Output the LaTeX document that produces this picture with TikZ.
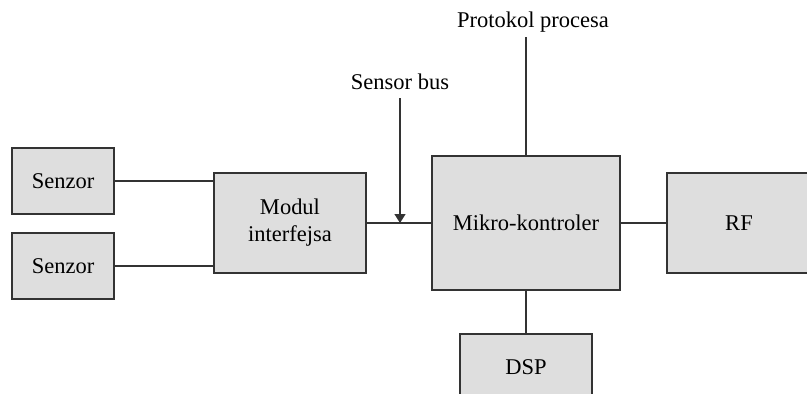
\documentclass[tikz,border=0pt]{standalone}
\usepackage{fontspec}
\setmainfont{Liberation Serif}
\usetikzlibrary{arrows.meta}
\definecolor{boxfill}{HTML}{DEDEDE}
\definecolor{edge}{HTML}{333333}
\begin{document}
\begin{tikzpicture}[x=1pt,y=-1pt,
  block/.style={draw=edge,fill=boxfill,line width=1.3pt,inner sep=0pt,
    font=\fontsize{22.5}{27}\selectfont,align=center},
  wire/.style={draw=edge,line width=1.3pt},
  lbl/.style={font=\fontsize{22.5}{27}\selectfont,inner sep=0pt}]
\useasboundingbox (0,0) rectangle (807,394);
\clip (0,0) rectangle (807,394);
% blocks
\node[block,minimum width=102pt,minimum height=66pt] (s1) at (63,181) {Senzor};
\node[block,minimum width=102pt,minimum height=66pt] (s2) at (63,266) {Senzor};
\node[block,minimum width=152pt,minimum height=100pt] (mod) at (290,223) {Modul\\interfejsa};
\node[block,minimum width=188pt,minimum height=134pt] (mc) at (526,223) {Mikro-kontroler};
\node[block,minimum width=144pt,minimum height=100pt] (rf) at (739,223) {RF};
\node[block,minimum width=132pt,minimum height=66pt] (dsp) at (526,367) {DSP};
% labels
\node[lbl] (bus) at (400,82) {Sensor bus};
\node[lbl] (proto) at (533,22) {Protokol procesa};
\coordinate (busin) at (400,223);
\coordinate (ptop) at (526,37);
% connectors
\draw[wire] (s1.east) -- (s1.east -| mod.west);
\draw[wire] (s2.east) -- (s2.east -| mod.west);
\draw[wire] (mod.east) -- (mc.west);
\draw[wire,-{Triangle[length=9pt,width=11pt]}] (400,98) -- (busin);
\draw[wire] (ptop) -- (mc.north);
\draw[wire] (mc.east) -- (rf.west);
\draw[wire] (mc.south) -- (dsp.north);
\end{tikzpicture}
\end{document}
